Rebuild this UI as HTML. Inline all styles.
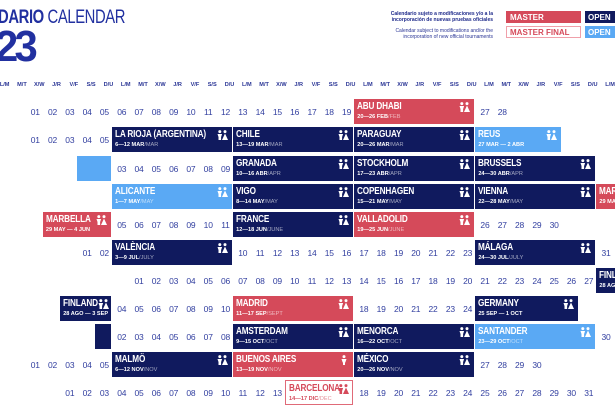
<!DOCTYPE html>
<html><head><meta charset="utf-8">
<style>
*{margin:0;padding:0;box-sizing:border-box}
body{width:615px;height:410px;overflow:hidden;background:#fff;position:relative;font-family:"Liberation Sans",sans-serif;color:#2a3595}
.abs{position:absolute}
.row{position:absolute;left:-9px;display:grid;grid-template-columns:repeat(37,17.3px);height:25px;width:640px}
.row>span{font-size:8.5px;color:#3340a0;display:flex;align-items:center;justify-content:center;letter-spacing:-0.2px;padding-left:2px}
.hdr{position:absolute;left:-4px;top:82px;display:grid;grid-template-columns:repeat(37,17.3px);font-size:5.6px;font-weight:bold;color:#2a3595}
.hdr span{text-align:center}
.b{position:relative;background:#101a5e;color:#fff;margin-right:1px;padding:2px 0 0 3px;overflow:hidden;white-space:nowrap}
.b.m{background:#d54a5a}
.b.o{background:#5aa9f4}
.b.f{background:#fff;border:1px solid #e06a78;color:#d54a5a}
.n{font-family:"Liberation Sans Narrow","Liberation Sans",sans-serif;font-weight:bold;font-size:10.5px;line-height:11px;transform:scaleX(.78);transform-origin:left;display:block;letter-spacing:-0.2px}
.d{font-size:5.6px;font-weight:bold;line-height:8px;display:block;margin-top:1px}
.d i{font-style:normal;font-weight:normal;opacity:.6}
.ic{position:absolute;right:4px;top:3px;width:11px;height:10px}
</style></head><body>
<div class="abs" style="left:-2px;top:7px;font-weight:bold;font-size:19px;color:#2130a0;letter-spacing:-0.5px;transform:scaleX(.78);transform-origin:left;white-space:nowrap">DARIO <span style="font-weight:normal">CALENDAR</span></div>
<div class="abs" style="left:-5px;top:22px;font-weight:bold;font-size:44px;color:#2130a0;letter-spacing:-4px;transform:scaleX(.95);transform-origin:left">23</div>
<div class="abs" style="right:122px;top:11px;font-size:5px;font-weight:bold;text-align:right;line-height:6px;color:#1e2a8a">Calendario sujeto a modificaciones y/o a la<br>incorporación de nuevas pruebas oficiales</div>
<div class="abs" style="right:122px;top:28px;font-size:5px;text-align:right;line-height:6px;color:#2a3595">Calendar subject to modifications and/or the<br>incorporation of new official tournaments</div>
<div class="abs" style="left:506px;top:11px;width:75px;height:12px;background:#d54a5a;color:#fff;font-size:8px;font-weight:bold;padding:2px 4px">MASTER</div>
<div class="abs" style="left:585px;top:11px;width:32px;height:12px;background:#101a5e;color:#fff;font-size:8px;font-weight:bold;padding:2px 3px">OPEN</div>
<div class="abs" style="left:506px;top:26px;width:75px;height:12px;border:1px solid #f0a0aa;color:#d54a5a;font-size:8px;font-weight:bold;padding:1px 3px">MASTER FINAL</div>
<div class="abs" style="left:585px;top:26px;width:32px;height:12px;background:#5aa9f4;color:#fff;font-size:8px;font-weight:bold;padding:2px 3px">OPEN</div>

<svg width="0" height="0" style="position:absolute"><defs><symbol id="p" viewBox="0 0 11 10"><circle cx="2.8" cy="1.6" r="1.5" fill="currentColor"/><path d="M0.5 4h4.6l-1 3h-2.6z" fill="currentColor"/><path d="M1.5 7h2.6v3h-2.6z" fill="currentColor"/><circle cx="8" cy="1.6" r="1.5" fill="currentColor"/><path d="M8 3.5l3 6.5h-6z" fill="currentColor"/></symbol><symbol id="q" viewBox="0 0 6 10"><circle cx="3" cy="1.6" r="1.5" fill="currentColor"/><path d="M0.5 4h5l-1.2 3.5h-2.6z" fill="currentColor"/><path d="M2 7h2v3h-2z" fill="currentColor"/></symbol></defs></svg>

<div class="hdr"><span>L/M</span><span>M/T</span><span>X/W</span><span>J/R</span><span>V/F</span><span>S/S</span><span>D/U</span><span>L/M</span><span>M/T</span><span>X/W</span><span>J/R</span><span>V/F</span><span>S/S</span><span>D/U</span><span>L/M</span><span>M/T</span><span>X/W</span><span>J/R</span><span>V/F</span><span>S/S</span><span>D/U</span><span>L/M</span><span>M/T</span><span>X/W</span><span>J/R</span><span>V/F</span><span>S/S</span><span>D/U</span><span>L/M</span><span>M/T</span><span>X/W</span><span>J/R</span><span>V/F</span><span>S/S</span><span>D/U</span><span>L/M</span><span>M/T</span></div>

<!-- FEB -->
<div class="row" style="top:99px"><span></span><span></span><span>01</span><span>02</span><span>03</span><span>04</span><span>05</span><span>06</span><span>07</span><span>08</span><span>09</span><span>10</span><span>11</span><span>12</span><span>13</span><span>14</span><span>15</span><span>16</span><span>17</span><span>18</span><span>19</span>
<div class="b m" style="grid-column:span 7"><b class="n">ABU DHABI</b><b class="d">20—26 FEB<i>/FEB</i></b><svg class="ic"><use href="#p"/></svg></div><span>27</span><span>28</span></div>
<!-- MAR -->
<div class="row" style="top:127px"><span></span><span></span><span>01</span><span>02</span><span>03</span><span>04</span><span>05</span>
<div class="b" style="grid-column:span 7"><b class="n">LA RIOJA (ARGENTINA)</b><b class="d">6—12 MAR<i>/MAR</i></b><svg class="ic"><use href="#p"/></svg></div>
<div class="b" style="grid-column:span 7"><b class="n">CHILE</b><b class="d">13—19 MAR<i>/MAR</i></b><svg class="ic"><use href="#p"/></svg></div>
<div class="b" style="grid-column:span 7"><b class="n">PARAGUAY</b><b class="d">20—26 MAR<i>/MAR</i></b><svg class="ic"><use href="#p"/></svg></div>
<div class="b o" style="grid-column:span 5"><b class="n">REUS</b><b class="d">27 MAR — 2 ABR</b><svg class="ic"><use href="#p"/></svg></div></div>
<!-- APR -->
<div class="row" style="top:156px"><span></span><span></span><span></span><span></span><span></span>
<div class="b o" style="grid-column:span 2"></div><span>03</span><span>04</span><span>05</span><span>06</span><span>07</span><span>08</span><span>09</span>
<div class="b" style="grid-column:span 7"><b class="n">GRANADA</b><b class="d">10—16 ABR<i>/APR</i></b><svg class="ic"><use href="#p"/></svg></div>
<div class="b" style="grid-column:span 7"><b class="n">STOCKHOLM</b><b class="d">17—23 ABR<i>/APR</i></b><svg class="ic"><use href="#p"/></svg></div>
<div class="b" style="grid-column:span 7"><b class="n">BRUSSELS</b><b class="d">24—30 ABR<i>/APR</i></b><svg class="ic"><use href="#p"/></svg></div></div>
<!-- MAY -->
<div class="row" style="top:184px"><span></span><span></span><span></span><span></span><span></span><span></span><span></span>
<div class="b o" style="grid-column:span 7"><b class="n">ALICANTE</b><b class="d">1—7 MAY<i>/MAY</i></b><svg class="ic"><use href="#p"/></svg></div>
<div class="b" style="grid-column:span 7"><b class="n">VIGO</b><b class="d">8—14 MAY<i>/MAY</i></b><svg class="ic"><use href="#p"/></svg></div>
<div class="b" style="grid-column:span 7"><b class="n">COPENHAGEN</b><b class="d">15—21 MAY<i>/MAY</i></b><svg class="ic"><use href="#p"/></svg></div>
<div class="b" style="grid-column:span 7"><b class="n">VIENNA</b><b class="d">22—28 MAY<i>/MAY</i></b><svg class="ic"><use href="#p"/></svg></div>
<div class="b m" style="grid-column:span 2"><b class="n">MARBELLA</b><b class="d">29 MAY</b></div></div>
<!-- JUN -->
<div class="row" style="top:212px"><span></span><span></span><span></span>
<div class="b m" style="grid-column:span 4"><b class="n">MARBELLA</b><b class="d">29 MAY — 4 JUN</b><svg class="ic"><use href="#p"/></svg></div><span>05</span><span>06</span><span>07</span><span>08</span><span>09</span><span>10</span><span>11</span>
<div class="b" style="grid-column:span 7"><b class="n">FRANCE</b><b class="d">12—18 JUN<i>/JUNE</i></b><svg class="ic"><use href="#p"/></svg></div>
<div class="b m" style="grid-column:span 7"><b class="n">VALLADOLID</b><b class="d">19—25 JUN<i>/JUNE</i></b><svg class="ic"><use href="#p"/></svg></div><span>26</span><span>27</span><span>28</span><span>29</span><span>30</span></div>
<!-- JUL -->
<div class="row" style="top:240px"><span></span><span></span><span></span><span></span><span></span><span>01</span><span>02</span>
<div class="b" style="grid-column:span 7"><b class="n">VALÈNCIA</b><b class="d">3—9 JUL<i>/JULY</i></b><svg class="ic"><use href="#p"/></svg></div><span>10</span><span>11</span><span>12</span><span>13</span><span>14</span><span>15</span><span>16</span><span>17</span><span>18</span><span>19</span><span>20</span><span>21</span><span>22</span><span>23</span>
<div class="b" style="grid-column:span 7"><b class="n">MÁLAGA</b><b class="d">24—30 JUL<i>/JULY</i></b><svg class="ic"><use href="#p"/></svg></div><span>31</span></div>
<!-- AUG -->
<div class="row" style="top:268px"><span></span><span></span><span></span><span></span><span></span><span></span><span></span><span></span><span>01</span><span>02</span><span>03</span><span>04</span><span>05</span><span>06</span><span>07</span><span>08</span><span>09</span><span>10</span><span>11</span><span>12</span><span>13</span><span>14</span><span>15</span><span>16</span><span>17</span><span>18</span><span>19</span><span>20</span><span>21</span><span>22</span><span>23</span><span>24</span><span>25</span><span>26</span><span>27</span>
<div class="b" style="grid-column:span 2"><b class="n">FINLAND</b><b class="d">28 AGO</b></div></div>
<!-- SEP -->
<div class="row" style="top:296px"><span></span><span></span><span></span><span></span>
<div class="b" style="grid-column:span 3"><b class="n">FINLAND</b><b class="d">28 AGO — 3 SEP</b><svg class="ic" style="right:2px"><use href="#p"/></svg></div><span>04</span><span>05</span><span>06</span><span>07</span><span>08</span><span>09</span><span>10</span>
<div class="b m" style="grid-column:span 7"><b class="n">MADRID</b><b class="d">11—17 SEP<i>/SEPT</i></b><svg class="ic"><use href="#p"/></svg></div><span>18</span><span>19</span><span>20</span><span>21</span><span>22</span><span>23</span><span>24</span>
<div class="b" style="grid-column:span 6"><b class="n">GERMANY</b><b class="d">25 SEP — 1 OCT</b><svg class="ic"><use href="#p"/></svg></div></div>
<!-- OCT -->
<div class="row" style="top:324px"><span></span><span></span><span></span><span></span><span></span><span></span>
<div class="b" style="grid-column:span 1"></div><span>02</span><span>03</span><span>04</span><span>05</span><span>06</span><span>07</span><span>08</span>
<div class="b" style="grid-column:span 7"><b class="n">AMSTERDAM</b><b class="d">9—15 OCT<i>/OCT</i></b><svg class="ic"><use href="#p"/></svg></div>
<div class="b" style="grid-column:span 7"><b class="n">MENORCA</b><b class="d">16—22 OCT<i>/OCT</i></b><svg class="ic"><use href="#p"/></svg></div>
<div class="b o" style="grid-column:span 7"><b class="n">SANTANDER</b><b class="d">23—29 OCT<i>/OCT</i></b><svg class="ic"><use href="#p"/></svg></div><span>30</span><span>31</span></div>
<!-- NOV -->
<div class="row" style="top:352px"><span></span><span></span><span>01</span><span>02</span><span>03</span><span>04</span><span>05</span>
<div class="b" style="grid-column:span 7"><b class="n">MALMÖ</b><b class="d">6—12 NOV<i>/NOV</i></b><svg class="ic"><use href="#p"/></svg></div>
<div class="b m" style="grid-column:span 7"><b class="n">BUENOS AIRES</b><b class="d">13—19 NOV<i>/NOV</i></b><svg class="ic" style="width:6px;right:6px"><use href="#q"/></svg></div>
<div class="b" style="grid-column:span 7"><b class="n">MÉXICO</b><b class="d">20—26 NOV<i>/NOV</i></b><svg class="ic"><use href="#p"/></svg></div><span>27</span><span>28</span><span>29</span><span>30</span></div>
<!-- DEC -->
<div class="row" style="top:380px"><span></span><span></span><span></span><span></span><span>01</span><span>02</span><span>03</span><span>04</span><span>05</span><span>06</span><span>07</span><span>08</span><span>09</span><span>10</span><span>11</span><span>12</span><span>13</span>
<div class="b f" style="grid-column:span 4"><b class="n">BARCELONA</b><b class="d">14—17 DIC<i>/DEC</i></b><svg class="ic" style="right:3px"><use href="#p"/></svg></div><span>18</span><span>19</span><span>20</span><span>21</span><span>22</span><span>23</span><span>24</span><span>25</span><span>26</span><span>27</span><span>28</span><span>29</span><span>30</span><span>31</span></div>
</body></html>
